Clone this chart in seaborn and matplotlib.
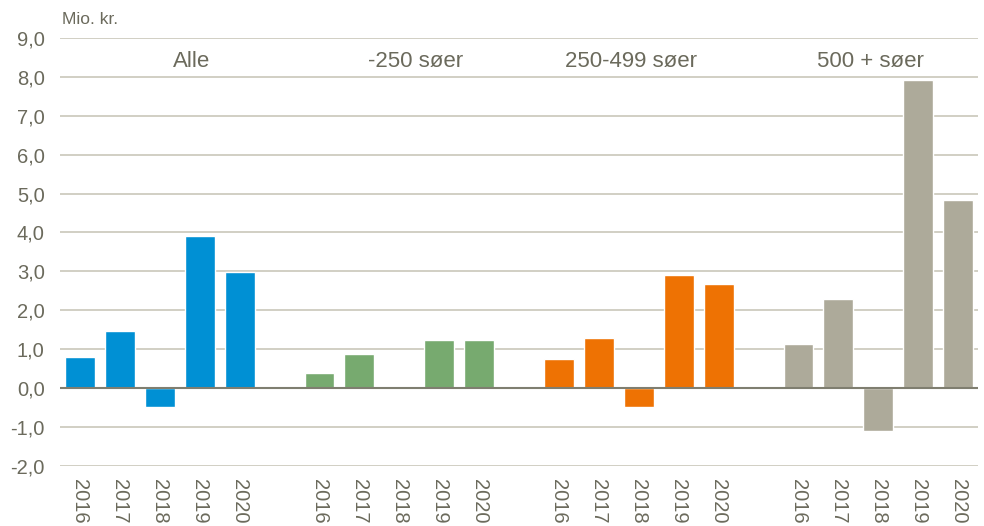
import matplotlib
matplotlib.use("Agg")
from matplotlib import pyplot as plt
import pandas as pd
import seaborn as sns

# data (mio. kr.)
years = ["2016", "2017", "2018", "2019", "2020"]
groups = ["Alle", "-250 søer", "250-499 søer", "500 + søer"]
alle = [0.80, 1.46, -0.48, 3.92, 2.99]
under_250 = [0.40, 0.87, 0.0, 1.25, 1.24]
mellem_250_499 = [0.76, 1.28, -0.48, 2.92, 2.67]
over_500 = [1.14, 2.30, -1.09, 7.91, 4.83]
colors = ["#0090D4", "#77AA6F", "#EE7203", "#ADAA9A"]

series = [alle, under_250, mellem_250_499, over_500]
rows = []
order = []
labels = []
for gi, (g, vals) in enumerate(zip(groups, series)):
    if gi > 0:
        order.append(f"gap{gi}")
        labels.append("")
    for y, v in zip(years, vals):
        key = f"{g} {y}"
        rows.append({"pos": key, "value": v, "gruppe": g})
        order.append(key)
        labels.append(y)
df = pd.DataFrame(rows)

sns.set_style("white")
plt.rcParams["font.family"] = ["Liberation Sans Narrow", "Liberation Sans", "DejaVu Sans"]
txt = "#6B6A5C"

fig = plt.figure(figsize=(9.84, 5.26), dpi=100)
ax = fig.add_axes([0.061, 0.114, 0.933, 0.814])
sns.barplot(data=df, x="pos", y="value", hue="gruppe", order=order,
            hue_order=groups, palette=colors, dodge=False, width=0.75,
            legend=False, ax=ax, saturation=1)

ax.set_ylim(-2, 9)
ax.set_yticks(range(-2, 10))
ax.set_yticklabels([f"{v},0" for v in range(-2, 10)], color=txt, fontsize=14.5)
ax.set_xticks(range(len(order)))
ax.set_xticklabels(labels, rotation=270, color=txt, fontsize=14.5)
ax.tick_params(axis="both", length=0)
ax.tick_params(axis="x", pad=9)
ax.tick_params(axis="y", pad=11)
ax.set_xlim(-0.5, len(order) - 0.5)
ax.set_xlabel("")
ax.set_ylabel("")
for s in ax.spines.values():
    s.set_visible(False)
ax.yaxis.grid(True, color="#C9C7BA", linewidth=1.2)
ax.set_axisbelow(True)
ax.axhline(0, color="#7F7E70", linewidth=1.5, zorder=3)

title_x = [2.8, 8.4, 13.8, 19.8]
for g, x in zip(groups, title_x):
    ax.text(x, 8.4, g, ha="center", va="center", color=txt, fontsize=16)

fig.text(0.063, 0.962, "Mio. kr.", color=txt, fontsize=12.5, va="center")

fig.savefig("out.png", dpi=100)
